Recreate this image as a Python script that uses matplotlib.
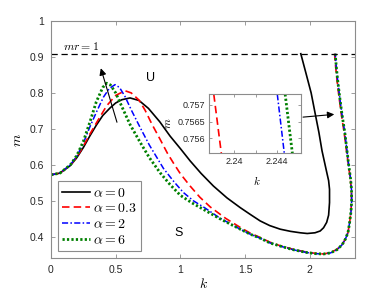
import matplotlib.pyplot as plt

plt.rcParams['mathtext.fontset'] = 'cm'
plt.rcParams['font.family'] = ['Liberation Sans', 'DejaVu Sans']

# alpha = 0
k_a0 = [0, 0.07, 0.15, 0.2, 0.25, 0.3, 0.35, 0.4, 0.456, 0.5, 0.547, 0.611, 0.68,
        0.753, 0.84, 0.92, 1.0, 1.075, 1.16, 1.255, 1.36, 1.462, 1.54, 1.616, 1.69,
        1.771, 1.85, 1.926, 1.98, 2.04, 2.08, 2.106, 2.13, 2.145, 2.152, 2.152,
        2.145, 2.13, 2.094, 2.07, 2.042, 2.01, 1.972, 1.93]
m_a0 = [0.572, 0.577, 0.598, 0.62, 0.648, 0.68, 0.71, 0.737, 0.758, 0.772, 0.781,
        0.786, 0.779, 0.757, 0.72, 0.68, 0.645, 0.611, 0.576, 0.541, 0.508, 0.481,
        0.462, 0.444, 0.431, 0.421, 0.415, 0.411, 0.409, 0.411, 0.416, 0.425, 0.44,
        0.46, 0.495, 0.532, 0.556, 0.58, 0.639, 0.69, 0.741, 0.8, 0.852, 0.909]

# alpha = 0.3
k_a03 = [0, 0.07, 0.15, 0.2, 0.25, 0.3, 0.36, 0.43, 0.5, 0.572, 0.62, 0.68, 0.727,
         0.78, 0.843, 0.9, 0.946, 1.0, 1.075, 1.15, 1.23, 1.35, 1.462, 1.54, 1.616,
         1.69, 1.771, 1.87, 1.978, 2.04, 2.106, 2.16, 2.21, 2.25, 2.274, 2.295,
         2.307, 2.318, 2.322, 2.321, 2.313, 2.298, 2.283, 2.265, 2.243, 2.225,
         2.21, 2.2, 2.191]
m_a03 = [0.572, 0.577, 0.599, 0.621, 0.652, 0.685, 0.722, 0.764, 0.793, 0.806, 0.8,
         0.78, 0.752, 0.713, 0.671, 0.632, 0.605, 0.575, 0.541, 0.51, 0.483, 0.451,
         0.426, 0.41, 0.398, 0.385, 0.375, 0.365, 0.357, 0.354, 0.352, 0.356,
         0.365, 0.379, 0.393, 0.412, 0.439, 0.47, 0.5, 0.53, 0.56, 0.6, 0.639,
         0.69, 0.741, 0.79, 0.835, 0.87, 0.909]

# alpha = 2
k_a2 = [0, 0.07, 0.15, 0.2, 0.25, 0.3, 0.353, 0.405, 0.45, 0.495, 0.53, 0.572,
        0.624, 0.69, 0.76, 0.869, 0.95, 1.023, 1.1, 1.19, 1.3, 1.462, 1.54, 1.616,
        1.69, 1.771, 1.87, 1.978, 2.04, 2.106, 2.16, 2.21, 2.25, 2.274, 2.295,
        2.307, 2.318, 2.323, 2.322, 2.315, 2.3, 2.287, 2.27, 2.248, 2.23, 2.215,
        2.205, 2.196]
m_a2 = [0.572, 0.577, 0.6, 0.624, 0.66, 0.705, 0.748, 0.788, 0.812, 0.823, 0.815,
        0.79, 0.75, 0.703, 0.655, 0.59, 0.553, 0.523, 0.5, 0.48, 0.453, 0.421, 0.407,
        0.396, 0.383, 0.374, 0.364, 0.356, 0.353, 0.352, 0.355, 0.364, 0.378, 0.393,
        0.412, 0.439, 0.47, 0.5, 0.53, 0.56, 0.6, 0.639, 0.69, 0.741, 0.79, 0.835,
        0.87, 0.909]

# alpha = 6
k_a6 = [0, 0.07, 0.15, 0.2, 0.25, 0.3, 0.35, 0.4, 0.43, 0.46, 0.5, 0.55, 0.611,
        0.69, 0.76, 0.843, 0.92, 1.0, 1.09, 1.178, 1.3, 1.462, 1.54, 1.616, 1.69,
        1.771, 1.87, 1.978, 2.04, 2.106, 2.16, 2.21, 2.25, 2.274, 2.295, 2.307,
        2.318, 2.323, 2.322, 2.315, 2.3, 2.287, 2.27, 2.248, 2.23, 2.215, 2.205,
        2.196]
m_a6 = [0.572, 0.577, 0.6, 0.626, 0.665, 0.718, 0.775, 0.815, 0.827, 0.822, 0.8,
        0.76, 0.712, 0.662, 0.62, 0.578, 0.545, 0.515, 0.494, 0.476, 0.451, 0.421,
        0.407, 0.396, 0.383, 0.374, 0.364, 0.356, 0.353, 0.352, 0.355, 0.364, 0.378,
        0.393, 0.412, 0.439, 0.47, 0.5, 0.53, 0.56, 0.6, 0.639, 0.69, 0.741, 0.79,
        0.835, 0.87, 0.909]

# inset (zoom near k = 2.24)
k_in_a03 = [2.2381, 2.2388]
m_in_a03 = [0.75732, 0.75555]
k_in_a2 = [2.2440, 2.24465]
m_in_a2 = [0.75732, 0.75555]
k_in_a6 = [2.24473, 2.2454]
m_in_a6 = [0.75732, 0.75555]

mr_line = 0.909

spine_col = '#8c8c8c'
tick_col = '#262626'

fig = plt.figure(figsize=(3.92, 2.94), dpi=100)
ax = fig.add_axes([0.130, 0.1214, 0.776, 0.8072])

ax.plot(k_a0, m_a0, color='k', lw=1.2, label=r'$\alpha=0$')
ax.plot(k_a03, m_a03, color='r', lw=1.2, ls=(0, (4.5, 2.5)), label=r'$\alpha=0.3$')
ax.plot(k_a2, m_a2, color='b', lw=1.1, ls=(0, (4, 1.5, 1, 1.5)), label=r'$\alpha=2$')
ax.plot(k_a6, m_a6, color='#008000', lw=2.0, ls=(0, (0.8, 0.8)), label=r'$\alpha=6$')
ax.axhline(mr_line, color='k', lw=0.9, ls=(0, (5, 3)))

ax.set_xlim(0, 2.35)
ax.set_ylim(0.34, 1)
ax.set_xticks([0, 0.5, 1, 1.5, 2])
ax.set_xticklabels(['0', '0.5', '1', '1.5', '2'])
ax.set_yticks([0.4, 0.5, 0.6, 0.7, 0.8, 0.9, 1])
ax.set_yticklabels(['0.4', '0.5', '0.6', '0.7', '0.8', '0.9', '1'])
ax.tick_params(direction='in', top=True, right=True, length=3, width=0.6,
               color=spine_col, labelcolor=tick_col, labelsize=7.5, pad=5)
for s in ax.spines.values():
    s.set_color(spine_col)
    s.set_linewidth(0.8)

ax.set_xlabel('$k$', fontsize=10, labelpad=1)
ax.set_ylabel('$m$', fontsize=10, labelpad=4)

ax.text(0.09, 0.928, '$mr = 1$', fontsize=8.5, ha='left', va='center')
ax.text(0.771, 0.841, 'U', fontsize=9, ha='center', va='center')
ax.text(0.985, 0.409, 'S', fontsize=9, ha='center', va='center')

ax.annotate('', xy=(0.379, 0.876), xytext=(0.516, 0.711),
            arrowprops=dict(arrowstyle='-|>', color='k', lw=0.8, mutation_scale=10))
ax.annotate('', xy=(2.21, 0.741), xytext=(1.926, 0.732),
            arrowprops=dict(arrowstyle='-|>', color='k', lw=0.8, mutation_scale=10))

leg = ax.legend(loc='lower left', bbox_to_anchor=(0.024, 0.032), borderaxespad=0,
                fontsize=10, fancybox=False, edgecolor=spine_col, framealpha=1,
                handlelength=2.0, handletextpad=0.2, labelspacing=0.12,
                borderpad=0.3)
leg.get_frame().set_linewidth(0.8)

# inset
ax_in = fig.add_axes([0.5344, 0.4786, 0.2334, 0.2007])
ax_in.plot(k_in_a03, m_in_a03, color='r', lw=1.2, ls=(0, (4.5, 2.5)))
ax_in.plot(k_in_a2, m_in_a2, color='b', lw=1.1, ls=(0, (4, 1.5, 1, 1.5)))
ax_in.plot(k_in_a6, m_in_a6, color='#008000', lw=2.0, ls=(0, (0.8, 0.8)))
ax_in.set_xlim(2.2377, 2.2462)
ax_in.set_ylim(0.75555, 0.75732)
ax_in.set_xticks([2.24, 2.242, 2.244])
ax_in.set_xticklabels(['2.24', '', '2.244'])
ax_in.set_yticks([0.756, 0.7565, 0.757])
ax_in.set_yticklabels(['0.756', '0.7565', '0.757'])
ax_in.tick_params(direction='in', top=True, right=True, length=2.5, width=0.6,
                  color=spine_col, labelcolor=tick_col, labelsize=6.5, pad=3)
for s in ax_in.spines.values():
    s.set_color(spine_col)
    s.set_linewidth(0.8)
ax_in.set_xlabel('$k$', fontsize=8)
ax_in.xaxis.set_label_coords(0.516, -0.35)
ax_in.set_ylabel('$m$', fontsize=8)
ax_in.yaxis.set_label_coords(-0.40, 0.51)

fig.savefig('out.png', dpi=100)
